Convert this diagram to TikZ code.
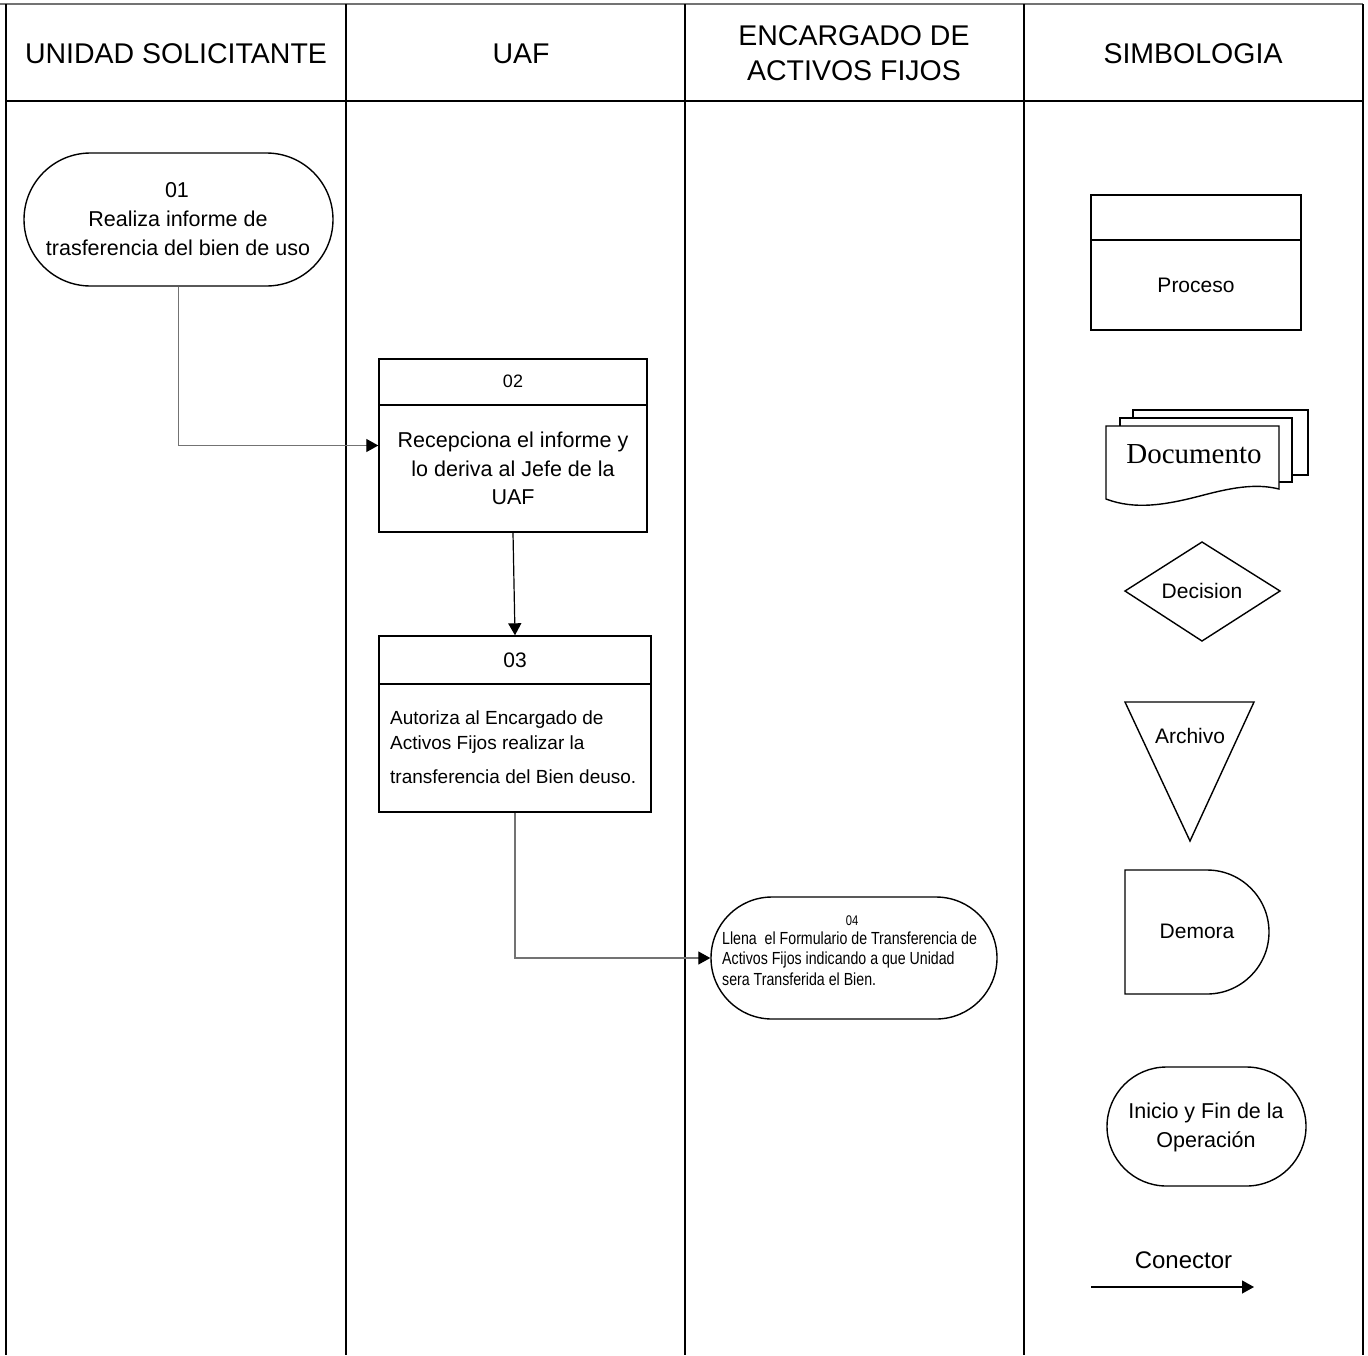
\documentclass[tikz,border=0pt]{standalone}
\usepackage{fontspec}
\setmainfont{Liberation Sans}
\newfontfamily\docfont{Liberation Serif}
\usetikzlibrary{arrows.meta,shapes.misc}
\begin{document}
\begin{tikzpicture}[x=1pt,y=-1pt,
  grid/.style={line width=2pt},
  outl/.style={draw, line width=1.4pt, fill=white},
  box/.style={outl, rectangle, inner sep=0pt},
  stadium/.style={outl, rounded rectangle, inner sep=0pt},
  tip/.style={-{Triangle[length=12pt,width=13pt,color=black]}},
  conn/.style={tip, line width=1.2pt, draw=black!55},
  fs/.style={font={\fontsize{#1}{#1}\selectfont}},
  lbl/.style={anchor=base, inner sep=0pt},
  lblw/.style={anchor=base west, inner sep=0pt},
]
\useasboundingbox (0,0) rectangle (1368,1355);

% ---- swimlane table ----
\draw[line width=2.5pt, black!55] (0,4) -- (1363,4);
\draw[grid] (6,4) -- (6,1355);
\draw[grid] (346,4) -- (346,1355);
\draw[grid] (685,4) -- (685,1355);
\draw[grid] (1024,4) -- (1024,1355);
\draw[grid] (1363,4) -- (1363,1355);
\draw[grid] (6,101) -- (1363,101);

\node[lbl, fs=28.5] (h1) at (176,63.3) {UNIDAD SOLICITANTE};
\node[lbl, fs=28.5] (h2) at (521,63.3) {UAF};
\node[lbl, fs=28.5] (h3a) at (854,45.3) {ENCARGADO DE};
\node[lbl, fs=28.5] (h3b) at (854,80.3) {ACTIVOS FIJOS};
\node[lbl, fs=28.5] (h4) at (1193,63.3) {SIMBOLOGIA};

% ---- 01 ----
\node[stadium, minimum width=309, minimum height=133] (n01) at (178.5,219.5) {};
\node[lbl, fs=21.5] (t01a) at (177,197.7) {01};
\node[lbl, fs=21.5] (t01b) at (178,226.7) {Realiza informe de};
\node[lbl, fs=21.5] (t01c) at (178,255.7) {trasferencia del bien de uso};

% ---- 02 ----
\node[box, minimum width=268, minimum height=173] (n02) at (513,445.5) {};
\draw[line width=1.4pt] (379,405) -- (647,405);
\node[lbl, fs=18] (t02a) at (513,387.5) {02};
\node[lbl, fs=21.5] (t02b) at (513,447.7) {Recepciona el informe y};
\node[lbl, fs=21.5] (t02c) at (513,476.7) {lo deriva al Jefe de la};
\node[lbl, fs=21.5] (t02d) at (513,504.7) {UAF};

% ---- 03 ----
\node[box, minimum width=272, minimum height=176] (n03) at (515,724) {};
\draw[line width=1.4pt] (379,684) -- (651,684);
\node[lbl, fs=21] (t03a) at (515,667.5) {03};
\node[lblw, fs=19] (t03b) at (390,724) {Autoriza al Encargado de};
\node[lblw, fs=19] (t03c) at (390,749) {Activos Fijos realizar la};
\node[lblw, fs=19] (t03d) at (390,783) {transferencia del Bien deuso.};

% ---- 04 ----
\node[stadium, minimum width=286, minimum height=122] (n04) at (854,958) {};
\node[lbl, fs=14] (t04a) at (852,925) {\scalebox{0.8}[1]{04}};
\node[lblw, fs=17.5] (t04b) at (722,944) {\scalebox{0.81}[1]{Llena\ \ el Formulario de Transferencia de}};
\node[lblw, fs=17.5] (t04c) at (722,964.5) {\scalebox{0.81}[1]{Activos Fijos indicando a que Unidad}};
\node[lblw, fs=17.5] (t04d) at (722,985) {\scalebox{0.81}[1]{sera Transferida el Bien.}};

% ---- connectors ----
\draw[conn] (n01.south) |- (n02.west);
\draw[tip, line width=1.2pt] (n02.south) -- (n03.north);
\draw[conn] (n03.south) |- (n04.west);

% ---- symbols ----
\node[box, minimum width=210, minimum height=135] (sproc) at (1196,262.5) {};
\draw[line width=1.4pt] (1091,240) -- (1301,240);
\node[lbl, fs=21] (tproc) at (1196,292.5) {Proceso};

\draw[outl] (1133,410) rectangle (1308,475);
\draw[outl] (1120,418) rectangle (1292,482);
\draw[outl] (1106,426) -- (1279,426) -- (1279,489)
  .. controls (1255,483) and (1230,488) .. (1200,496)
  .. controls (1165,505) and (1135,510) .. (1106,499) -- cycle;
\node[lbl, font={\docfont\fontsize{29}{29}\selectfont}] (tdoc) at (1194,463) {Documento};

\draw[outl] (1125,591) -- (1202,542) -- (1280,591) -- (1202,641) -- cycle;
\node[lbl, fs=21] (tdec) at (1202,598.5) {Decision};

\draw[outl] (1125,702) -- (1254,702) -- (1190,841) -- cycle;
\node[lbl, fs=21] (tarc) at (1190,743.5) {Archivo};

\draw[outl] (1125,870) -- (1207,870)
  .. controls (1241.2,870) and (1269,897.8) .. (1269,932)
  .. controls (1269,966.2) and (1241.2,994) .. (1207,994)
  -- (1125,994) -- cycle;
\node[lbl, fs=21] (tdem) at (1197,938.5) {Demora};

\node[stadium, minimum width=199, minimum height=119] (sini) at (1206.5,1126.5) {};
\node[lbl, fs=21.5] (tini1) at (1206,1118.7) {Inicio y Fin de la};
\node[lbl, fs=21.5] (tini2) at (1206,1147.7) {Operación};

\node[lbl, fs=24] (tcon) at (1183.5,1268) {Conector};
\coordinate (cs) at (1091,1287);
\coordinate (ce) at (1254,1287);
\draw[tip, line width=1.2pt] (cs) -- (ce);
\end{tikzpicture}
\end{document}
